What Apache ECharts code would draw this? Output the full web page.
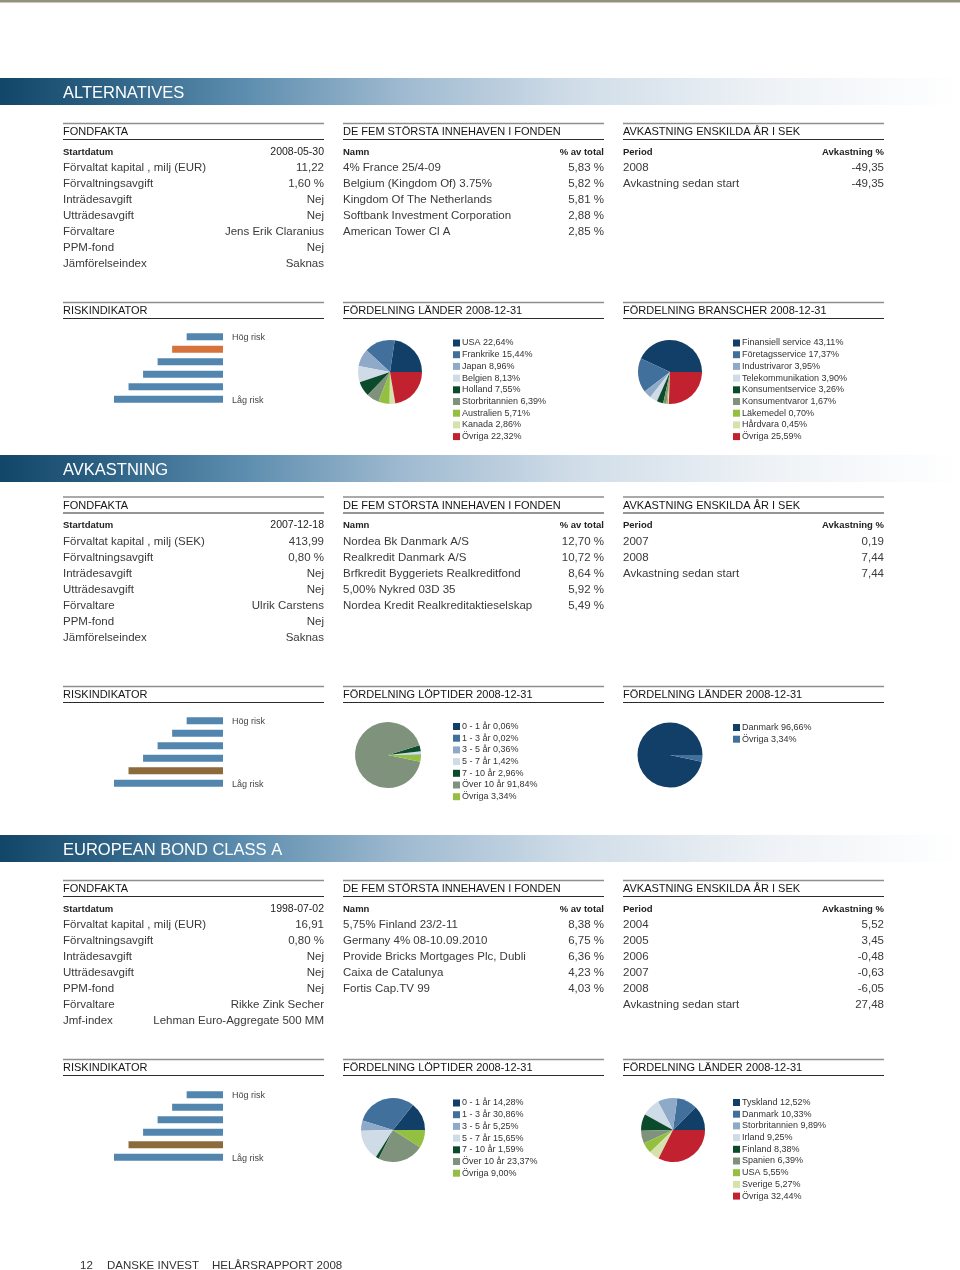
<!DOCTYPE html>
<html><head><meta charset="utf-8">
<script src="https://cdn.jsdelivr.net/npm/echarts@6.0.0/dist/echarts.min.js"></script>
<style>html,body{margin:0;padding:0;background:#fff}#c{width:960px;height:1270px}</style>
</head><body><div id="c"></div>
<script>
// ---------- DATA ----------
const sectionTitles = ['ALTERNATIVES', 'AVKASTNING', 'EUROPEAN BOND CLASS A'];

const factHeader1 = ['Startdatum', '2008-05-30'];
const factLabels1 = ['Förvaltat kapital , milj (EUR)', 'Förvaltningsavgift', 'Inträdesavgift', 'Utträdesavgift', 'Förvaltare', 'PPM-fond', 'Jämförelseindex'];
const factValues1 = ['11,22', '1,60 %', 'Nej', 'Nej', 'Jens Erik Claranius', 'Nej', 'Saknas'];
const holdNames1 = ['4% France 25/4-09', 'Belgium (Kingdom Of) 3.75%', 'Kingdom Of The Netherlands', 'Softbank Investment Corporation', 'American Tower Cl A'];
const holdShares1 = ['5,83 %', '5,82 %', '5,81 %', '2,88 %', '2,85 %'];
const retPeriods1 = ['2008', 'Avkastning sedan start'];
const retValues1 = ['-49,35', '-49,35'];

const factHeader2 = ['Startdatum', '2007-12-18'];
const factLabels2 = ['Förvaltat kapital , milj (SEK)', 'Förvaltningsavgift', 'Inträdesavgift', 'Utträdesavgift', 'Förvaltare', 'PPM-fond', 'Jämförelseindex'];
const factValues2 = ['413,99', '0,80 %', 'Nej', 'Nej', 'Ulrik Carstens', 'Nej', 'Saknas'];
const holdNames2 = ['Nordea Bk Danmark A/S', 'Realkredit Danmark A/S', 'Brfkredit Byggeriets Realkreditfond', '5,00% Nykred 03D 35', 'Nordea Kredit Realkreditaktieselskap'];
const holdShares2 = ['12,70 %', '10,72 %', '8,64 %', '5,92 %', '5,49 %'];
const retPeriods2 = ['2007', '2008', 'Avkastning sedan start'];
const retValues2 = ['0,19', '7,44', '7,44'];

const factHeader3 = ['Startdatum', '1998-07-02'];
const factLabels3 = ['Förvaltat kapital , milj (EUR)', 'Förvaltningsavgift', 'Inträdesavgift', 'Utträdesavgift', 'PPM-fond', 'Förvaltare', 'Jmf-index'];
const factValues3 = ['16,91', '0,80 %', 'Nej', 'Nej', 'Nej', 'Rikke Zink Secher', 'Lehman Euro-Aggregate 500 MM'];
const holdNames3 = ['5,75% Finland 23/2-11', 'Germany 4% 08-10.09.2010', 'Provide Bricks Mortgages Plc, Dubli', 'Caixa de Catalunya', 'Fortis Cap.TV 99'];
const holdShares3 = ['8,38 %', '6,75 %', '6,36 %', '4,23 %', '4,03 %'];
const retPeriods3 = ['2004', '2005', '2006', '2007', '2008', 'Avkastning sedan start'];
const retValues3 = ['5,52', '3,45', '-0,48', '-0,63', '-6,05', '27,48'];

const chartTitles1 = ['RISKINDIKATOR', 'FÖRDELNING LÄNDER 2008-12-31', 'FÖRDELNING BRANSCHER 2008-12-31'];
const chartTitles2 = ['RISKINDIKATOR', 'FÖRDELNING LÖPTIDER 2008-12-31', 'FÖRDELNING LÄNDER 2008-12-31'];
const chartTitles3 = ['RISKINDIKATOR', 'FÖRDELNING LÖPTIDER 2008-12-31', 'FÖRDELNING LÄNDER 2008-12-31'];

// risk scale: categories top (high) -> bottom (low), bar lengths
const riskCategories = ['6', '5', '4', '3', '2', '1'];
const riskBarLengths = [2.5, 3.5, 4.5, 5.5, 6.5, 7.5];
const riskClass = ['5', '2', '2'];

const pieNames1 = ['USA', 'Frankrike', 'Japan', 'Belgien', 'Holland', 'Storbritannien', 'Australien', 'Kanada', 'Övriga'];
const pieValues1 = [22.64, 15.44, 8.96, 8.13, 7.55, 6.39, 5.71, 2.86, 22.32];
const pieNames2 = ['Finansiell service', 'Företagsservice', 'Industrivaror', 'Telekommunikation', 'Konsumentservice', 'Konsumentvaror', 'Läkemedel', 'Hårdvara', 'Övriga'];
const pieValues2 = [43.11, 17.37, 3.95, 3.90, 3.26, 1.67, 0.70, 0.45, 25.59];
const pieNames3 = ['0 - 1 år', '1 - 3 år', '3 - 5 år', '5 - 7 år', '7 - 10 år', 'Över 10 år', 'Övriga'];
const pieValues3 = [0.06, 0.02, 0.36, 1.42, 2.96, 91.84, 3.34];
const pieNames4 = ['Danmark', 'Övriga'];
const pieValues4 = [96.66, 3.34];
const pieNames5 = ['0 - 1 år', '1 - 3 år', '3 - 5 år', '5 - 7 år', '7 - 10 år', 'Över 10 år', 'Övriga'];
const pieValues5 = [14.28, 30.86, 5.25, 15.65, 1.59, 23.37, 9.00];
const pieNames6 = ['Tyskland', 'Danmark', 'Storbritannien', 'Irland', 'Finland', 'Spanien', 'USA', 'Sverige', 'Övriga'];
const pieValues6 = [12.52, 10.33, 9.89, 9.25, 8.38, 6.39, 5.55, 5.27, 32.44];

const footerTexts = ['12', 'DANSKE INVEST', 'HELÅRSRAPPORT 2008'];

// ---------- STYLE / LAYOUT ----------
const FONT = "'Liberation Sans', Arial, sans-serif";
const palette = ['#123f68', '#41709c', '#8eaac8', '#cfdbe7', '#0b4b2b', '#7f937c', '#93c041', '#d5e2ad', '#c2212f'];
const riskBlue = '#5286ae';
const riskHi = ['#d6733d', '#8c6a3c', '#8c6a3c'];
const COLX = [63, 343, 623];
const COLW = 261;
const TY = 1; // text baseline nudge

const g = [];
function txt(x, y, s, font, fill, align) {
  g.push({ type: 'text', x: x, y: y + TY, silent: true,
    style: { text: s, font: font, fill: fill, align: align || 'left', verticalAlign: 'middle' } });
}
function hline(x1, x2, y, stroke, w) {
  g.push({ type: 'line', silent: true, shape: { x1: x1, y1: y, x2: x2, y2: y }, style: { stroke: stroke, lineWidth: w } });
}
function titleBlock(x, y, title) {
  hline(x, x + COLW, y - 7.5, '#8e8e8e', 1.3);
  hline(x, x + COLW, y + 8.5, '#2b2b2b', 1);
  txt(x, y, title, '11px ' + FONT, '#151515', 'left');
}
function table(x, y, title, head, labels, values, headRightBold) {
  titleBlock(x, y, title);
  txt(x, y + 20, head[0], 'bold 9.5px ' + FONT, '#222', 'left');
  txt(x + COLW, y + 20, head[1], (headRightBold ? 'bold 9.5px ' : '10.5px ') + FONT, '#222', 'right');
  labels.forEach((l, i) => {
    txt(x, y + 36 + 16 * i, l, '11.5px ' + FONT, '#3a3a3a', 'left');
    txt(x + COLW, y + 36 + 16 * i, values[i], '11.5px ' + FONT, '#3a3a3a', 'right');
  });
}

// top rule
g.push({ type: 'rect', silent: true, shape: { x: 0, y: 0, width: 960, height: 2.5 }, style: { fill: '#93937d' } });

const headerY = [78, 455, 835];
const tableY = [131, 504.5, 888];
const chartTitleY = [310, 694, 1067];
const secData = [
  [factHeader1, factLabels1, factValues1, holdNames1, holdShares1, retPeriods1, retValues1, chartTitles1],
  [factHeader2, factLabels2, factValues2, holdNames2, holdShares2, retPeriods2, retValues2, chartTitles2],
  [factHeader3, factLabels3, factValues3, holdNames3, holdShares3, retPeriods3, retValues3, chartTitles3]
];
secData.forEach((d, s) => {
  g.push({ type: 'rect', silent: true, shape: { x: 0, y: headerY[s], width: 960, height: 27 },
    style: { fill: new echarts.graphic.LinearGradient(0, 0, 1, 0, [
      { offset: 0, color: '#124669' }, { offset: 0.1, color: '#2a5f82' }, { offset: 0.25, color: '#5b8cad' },
      { offset: 0.42, color: '#9fbad0' }, { offset: 0.6, color: '#d0dde8' }, { offset: 0.8, color: '#eef2f6' },
      { offset: 1, color: '#ffffff' }]) } });
  txt(63, headerY[s] + 14, sectionTitles[s], '16.5px ' + FONT, '#ffffff', 'left');
  table(COLX[0], tableY[s], 'FONDFAKTA', d[0], d[1], d[2], false);
  table(COLX[1], tableY[s], 'DE FEM STÖRSTA INNEHAVEN I FONDEN', ['Namn', '% av total'], d[3], d[4], true);
  table(COLX[2], tableY[s], 'AVKASTNING ENSKILDA ÅR I SEK', ['Period', 'Avkastning %'], d[5], d[6], true);
  d[7].forEach((t, i) => titleBlock(COLX[i], chartTitleY[s], t));
});

// footer
txt(80, 1265, footerTexts[0], '11.5px ' + FONT, '#333', 'left');
txt(107, 1265, footerTexts[1], '11.5px ' + FONT, '#333', 'left');
txt(212, 1265, footerTexts[2], '11.5px ' + FONT, '#333', 'left');

// risk grids
const riskTop = [330.5, 714.5, 1088.5];
const riskH = 75;
const grids = [], xAxes = [], yAxes = [], series = [];
riskTop.forEach((top, s) => {
  grids.push({ left: 114, width: 109, top: top, height: riskH });
  xAxes.push({ type: 'value', gridIndex: s, min: 0, max: 7.5, inverse: true, show: false });
  yAxes.push({ type: 'category', gridIndex: s, data: riskCategories, inverse: true, show: false });
  series.push({ type: 'bar', xAxisIndex: s, yAxisIndex: s, barWidth: 7, silent: true,
    data: riskBarLengths.map((v, i) => ({ value: v,
      itemStyle: { color: riskCategories[i] === riskClass[s] ? riskHi[s] : riskBlue } })) });
  const pitch = riskH / riskCategories.length;
  txt(232, top + pitch / 2, 'Hög risk', '9px ' + FONT, '#444', 'left');
  txt(232, top + riskH - pitch / 2, 'Låg risk', '9px ' + FONT, '#444', 'left');
});

// pies
const pies = [
  { names: pieNames1, values: pieValues1, c: [390, 372], r: 32, lx: 453, ly: 338.5 },
  { names: pieNames2, values: pieValues2, c: [670, 372], r: 32, lx: 733, ly: 338.5 },
  { names: pieNames3, values: pieValues3, c: [388, 755], r: 33, lx: 453, ly: 722 },
  { names: pieNames4, values: pieValues4, c: [670, 755], r: 32.5, lx: 733, ly: 723 },
  { names: pieNames5, values: pieValues5, c: [393, 1130], r: 32, lx: 453, ly: 1098.5 },
  { names: pieNames6, values: pieValues6, c: [673, 1130], r: 32, lx: 733, ly: 1098 }
];
const labelMap = {};
const legends = [];
pies.forEach((p, k) => {
  const keys = p.names.map(n => k + '|' + n);
  keys.forEach((key, i) => {
    labelMap[key] = p.names[i] + ' ' + p.values[i].toFixed(2).replace('.', ',') + '%';
  });
  series.push({ type: 'pie', center: p.c, radius: p.r, startAngle: 0, clockwise: false, silent: true,
    label: { show: false }, labelLine: { show: false },
    data: p.values.map((v, i) => ({ name: keys[i], value: v, itemStyle: { color: palette[i] } })) });
  legends.push({ orient: 'vertical', left: p.lx, top: p.ly, padding: 0, itemWidth: 7, itemHeight: 7,
    itemGap: 2.7, icon: 'rect', selectedMode: false, data: keys,
    formatter: name => labelMap[name],
    textStyle: { fontSize: 9, fontFamily: FONT, color: '#333', lineHeight: 8, padding: [0, 0, 0, -3] } });
});

const chart = echarts.init(document.getElementById('c'), null, { renderer: 'canvas' });
chart.setOption({
  animation: false,
  backgroundColor: '#ffffff',
  color: palette,
  graphic: { elements: g },
  grid: grids, xAxis: xAxes, yAxis: yAxes,
  legend: legends,
  series: series
});
</script></body></html>
